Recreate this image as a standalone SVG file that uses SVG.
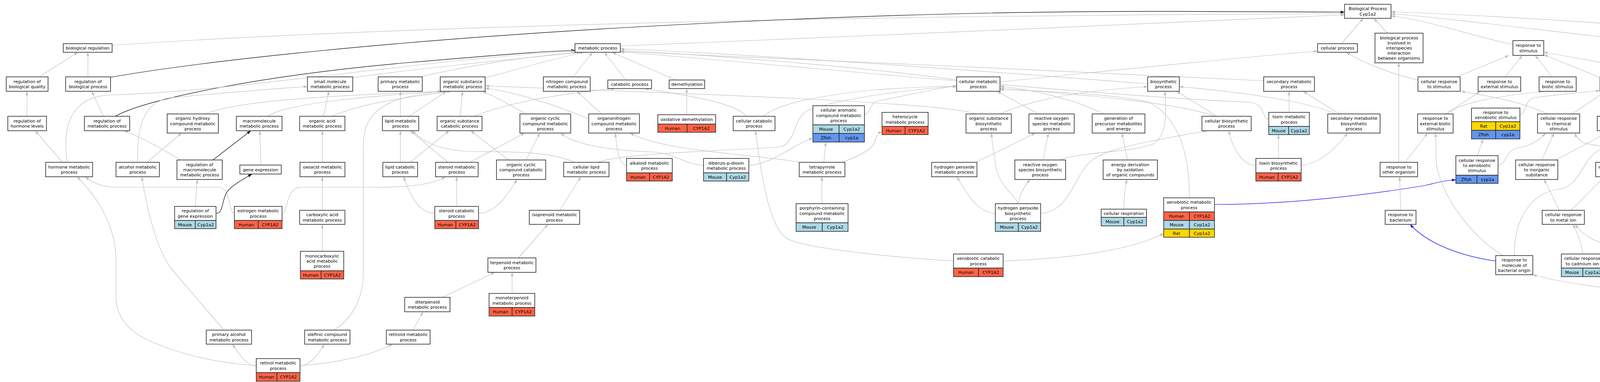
<svg xmlns="http://www.w3.org/2000/svg" width="5401" height="979" viewBox="0 0 5401 979">
<style>
.n rect{fill:#fff;stroke:#2b2b2b;stroke-width:1.6}
.n rect.h{fill:#ff6347}.n rect.m{fill:#add8e6}.n rect.r{fill:#ffd700}.n rect.z{fill:#6495ed}
text{font-family:"DejaVu Sans","Liberation Sans",sans-serif;font-size:11px;text-anchor:middle;fill:#000}
#edges path{fill:none;stroke:#c0c0c0;stroke-width:1.2;marker-end:url(#ag)}
#edges path.k{stroke:#000;marker-end:url(#ak)}
#edges path.u{stroke:#0000ff;marker-end:url(#au)}
#edges path.w{stroke-width:2.4}
</style>
<defs>
<marker id="ag" viewBox="0 0 10 7" refX="10" refY="3.5" markerWidth="10" markerHeight="7" markerUnits="userSpaceOnUse" orient="auto"><path d="M0,0L10,3.5L0,7z" fill="#c0c0c0"/></marker>
<marker id="ak" viewBox="0 0 10 7" refX="10" refY="3.5" markerWidth="10" markerHeight="7" markerUnits="userSpaceOnUse" orient="auto"><path d="M0,0L10,3.5L0,7z" fill="#000"/></marker>
<marker id="au" viewBox="0 0 10 7" refX="10" refY="3.5" markerWidth="10" markerHeight="7" markerUnits="userSpaceOnUse" orient="auto"><path d="M0,0L10,3.5L0,7z" fill="#0000ff"/></marker>
</defs>
<rect x="0" y="0" width="5401" height="979" fill="#fff"/>
<g id="edges">
<path d="M287,116 C900,74 2000,40 3442,35"/>
<path class="k" d="M283,198 C500,160 1000,100 1800,60 S3000,30 3442,31"/>
<path d="M1588,118 C2000,105 3000,55 3442,38"/>
<path d="M3434,112 L3490,47"/>
<path d="M3552,85 L3517,47"/>
<path d="M3873,114 C3760,90 3650,50 3561,41"/>
<path d="M4276,114 C4000,85 3700,45 3561,35"/>
<path d="M5121,197 C5000,130 4300,60 3561,30"/>
<path d="M100,197 L200,134"/>
<path d="M225,197 L225,134"/>
<path d="M69,298 L69,234"/>
<path d="M265,298 L235,234"/>
<path class="k" d="M295,298 C380,250 700,190 1050,160 S1420,131 1472,129"/>
<path d="M160,416 L90,335"/>
<path d="M172,416 C160,330 175,245 290,243 C600,235 1100,150 1472,131"/>
<path d="M376,416 L465,341"/>
<path d="M352,416 C350,320 370,258 440,250 C600,236 720,225 787,222"/>
<path d="M527,292 C600,258 850,245 1130,234"/>
<path d="M685,298 C730,265 950,245 1145,234"/>
<path class="k" d="M545,410 L642,335"/>
<path d="M668,423 L665,335"/>
<path d="M903,199 C1100,172 1350,148 1487,134"/>
<path d="M828,298 L842,234"/>
<path d="M850,298 C920,265 1050,248 1155,234"/>
<path d="M463,410 C420,385 360,350 317,335"/>
<path d="M600,547 C585,547 592,480 560,480 L300,480 C262,480 240,470 218,453"/>
<path d="M722,547 C738,547 730,480 770,480 L960,480 C1060,480 1115,470 1140,453"/>
<path d="M500,529 L505,460"/>
<path class="k" d="M553,547 C575,547 565,505 588,484 C605,468 625,458 645,446"/>
<path d="M825,416 L825,335"/>
<path d="M825,539 L825,453"/>
<path d="M825,644 L825,575"/>
<path d="M573,846 L440,690 C400,640 375,530 363,453"/>
<path d="M855,846 C905,815 930,760 930,700 L930,380 C930,300 960,250 1135,234"/>
<path d="M656,938 C630,936 612,908 595,882"/>
<path d="M768,938 C795,936 815,908 830,882"/>
<path d="M656,937 C550,930 450,905 380,872 C315,842 297,800 297,760 L297,668 C297,580 250,505 197,453"/>
<path d="M768,937 C850,932 950,912 1005,882"/>
<path d="M1057,846 L1083,799"/>
<path d="M1133,762 L1267,698"/>
<path d="M1311,752 L1311,698"/>
<path d="M1327,661 L1403,575"/>
<path d="M1433,539 L1487,453"/>
<path d="M1025,416 L1025,335"/>
<path d="M1050,416 L1150,335"/>
<path d="M1147,416 L1050,335"/>
<path d="M1203,416 L1343,341"/>
<path d="M1169,529 L1169,453"/>
<path d="M1113,547 C1070,545 1050,500 1033,453"/>
<path d="M1225,547 C1270,545 1300,500 1323,460"/>
<path d="M1347,410 L1382,341"/>
<path d="M1302,410 L1205,335"/>
<path d="M1025,298 L1025,234"/>
<path d="M1047,298 L1143,234"/>
<path d="M1178,298 L1184,234"/>
<path d="M1214,298 C1300,262 1450,238 1575,227"/>
<path d="M1345,292 C1300,265 1262,245 1235,234"/>
<path d="M1540,292 L1477,234"/>
<path d="M1507,305 C1420,268 1320,236 1242,226"/>
<path d="M1467,197 L1517,134"/>
<path d="M1602,205 L1547,134"/>
<path d="M1730,205 L1567,134"/>
<path d="M1758,294 L1758,227"/>
<path d="M1075,197 C1200,168 1350,145 1478,134"/>
<path d="M1242,200 C1320,178 1420,150 1495,134"/>
<path d="M1911,298 C1880,262 1760,245 1650,227"/>
<path d="M1953,298 C2000,262 2100,245 2240,230 C2350,223 2420,221 2449,221"/>
<path d="M2441,669 C2300,660 2080,640 2020,614 C1968,590 1950,450 1934,335"/>
<path d="M2568,669 C2750,662 2900,640 2979,598"/>
<path d="M2104,522 L2104,453"/>
<path d="M2109,416 L2114,364"/>
<path d="M2155,416 C2200,400 2235,382 2240,362 C2244,346 2250,340 2258,338"/>
<path d="M2046,416 C1950,396 1700,390 1613,341"/>
<path d="M1917,424 C1980,420 2030,370 2081,354"/>
<path d="M1801,424 C1750,420 1730,395 1680,390 C1550,385 1470,370 1435,341"/>
<path d="M2213,294 C2230,290 2225,262 2250,258 C2320,245 2400,226 2449,220"/>
<path d="M1530,416 C1600,390 1900,386 2000,376 C2040,362 2030,300 2070,282 C2150,252 2350,226 2449,222"/>
<path d="M1472,416 C1400,385 1300,390 1200,388 C1120,385 1080,360 1055,335"/>
<path d="M1604,424 C1585,420 1580,390 1575,341"/>
<path d="M2825,292 C2760,258 2650,230 2560,221"/>
<path d="M2887,410 L2872,341"/>
<path d="M2877,536 C2877,510 2880,480 2885,460"/>
<path d="M2938,215 C2500,180 1900,138 1588,125"/>
<path d="M2449,205 C2200,170 1800,140 1588,129"/>
<path d="M3235,207 C2800,185 2000,150 1588,132"/>
<path d="M3248,306 C3230,305 3240,265 3200,262 C2800,245 2000,165 1588,133"/>
<path d="M3300,288 L3300,234"/>
<path d="M3273,406 L3273,345"/>
<path d="M3215,424 C3180,424 3155,380 3146,335"/>
<path d="M3331,424 C3380,420 3420,380 3450,341"/>
<path d="M3429,292 L3336,234"/>
<path d="M3420,292 C3350,262 3200,238 3019,222"/>
<path d="M3115,298 L3012,234"/>
<path d="M3110,298 C3000,258 2700,238 2560,226"/>
<path d="M2561,292 C2650,250 2800,230 2938,222"/>
<path d="M2498,292 C2400,258 1600,235 1242,220"/>
<path d="M2658,292 L2553,234"/>
<path d="M2498,416 L2651,341"/>
<path d="M2670,410 L2684,341"/>
<path d="M2712,410 C2760,390 2900,390 2950,370 C2990,350 2985,280 2982,234"/>
<path d="M2548,547 C2510,545 2480,510 2450,453"/>
<path d="M2606,522 C2610,500 2620,480 2637,460"/>
<path d="M2606,522 C2600,500 2560,480 2550,430 C2544,390 2540,370 2538,341"/>
<path d="M2664,547 C2720,545 2740,490 2770,440 C2800,390 2850,378 3090,335"/>
<path d="M3045,507 C3045,400 3020,300 2940,262 C2850,240 2650,232 2560,230"/>
<path class="u" d="M3109,524 C3300,524 3500,500 3650,475 C3680,468 3700,462 3727,461"/>
<path d="M2560,210 C2800,185 3150,150 3373,131"/>
<path d="M3630,205 C3560,190 3490,160 3446,134"/>
<path d="M3730,197 L3863,142"/>
<path d="M3853,197 L3897,142"/>
<path d="M3973,197 L3930,142"/>
<path d="M4351,207 C4200,180 4050,150 3952,134"/>
<path d="M4096,199 C4050,180 3990,155 3952,140"/>
<path d="M3960,292 C3900,260 3800,245 3740,234"/>
<path d="M4025,292 L4110,234"/>
<path d="M3700,292 L3790,234"/>
<path d="M3705,292 C3740,260 3850,245 3950,234"/>
<path d="M3891,294 C3910,292 3900,255 3930,250 C4000,240 4060,236 4096,232"/>
<path d="M3782,399 L3797,356"/>
<path d="M3835,424 C3860,420 3850,385 3890,378 C3920,373 3940,360 3957,341"/>
<path d="M3581,416 L3581,161"/>
<path d="M3597,416 L3655,341"/>
<path d="M3586,539 L3583,453"/>
<path class="u" d="M3829,669 C3730,655 3650,620 3610,575"/>
<path d="M3847,655 C3760,600 3690,500 3677,420 L3675,341"/>
<path d="M3877,655 C3875,560 3920,495 3990,485 C4050,478 4050,400 4100,382 C4180,372 4240,370 4261,337"/>
<path d="M3947,410 L3978,341"/>
<path d="M3983,410 L4124,335"/>
<path d="M3992,539 L3953,460"/>
<path d="M4022,539 L4107,453"/>
<path d="M4052,651 C4050,630 4040,600 4027,575"/>
<path d="M4180,669 C4150,660 4140,635 4100,622 C4070,612 4050,600 4033,575"/>
<path d="M4235,651 C4238,620 4245,600 4254,575"/>
<path d="M4105,669 C4130,665 4148,630 4146,575"/>
<path d="M4141,539 L4129,453"/>
<path d="M4251,539 L4151,453"/>
<path d="M4130,416 L4147,335"/>
<path d="M4150,298 L4141,234"/>
<path d="M4261,306 C4245,300 4250,265 4230,255 C4210,245 4190,236 4175,230"/>
<path d="M4671,410 C4620,390 4530,385 4480,390 C4440,390 4430,330 4410,290 C4380,250 4300,228 4175,222"/>
<path d="M4281,416 L4291,345"/>
<path d="M4241,416 C4200,390 4100,375 4060,368 C4045,362 4035,352 4032,341"/>
<path d="M4355,547 C4335,545 4340,500 4293,453"/>
<path d="M4409,522 L4409,470"/>
<path d="M4387,424 C4370,420 4375,390 4340,375 C4320,366 4305,358 4297,345"/>
<path d="M4514,547 C4495,545 4500,500 4470,495 C4440,490 4420,485 4414,470"/>
<path d="M4561,529 L4568,453"/>
<path d="M4608,547 C4640,545 4680,500 4703,460"/>
<path d="M4548,416 C4520,395 4450,385 4380,380 C4330,375 4310,362 4300,345"/>
<path d="M4655,752 C4660,640 4660,540 4600,453"/>
<path d="M4715,770 C4770,765 4790,700 4780,620 C4770,560 4745,510 4727,460"/>
<path d="M4596,770 C4300,760 4050,740 3924,704"/>
<path d="M4473,306 C4455,305 4450,265 4420,234"/>
<path d="M4945,207 C4750,180 4500,150 4371,132"/>
<path d="M5180,298 L5180,234"/>
<path d="M5149,298 L5044,234"/>
<path d="M5333,406 C5333,330 5290,260 5232,234"/>
<path class="u" d="M5281,424 C5265,422 5262,395 5245,385 C5230,372 5220,350 5205,335"/>
<path d="M4888,423 L4997,234"/>
<path class="u" d="M4902,423 L5125,335"/>
<path d="M4891,539 L4883,446"/>
<path d="M5034,416 L5012,234"/>
<path d="M5157,423 C5100,400 5070,370 5055,300 C5047,270 5035,250 5022,234"/>
<path class="u w" d="M5180,423 L5180,335"/>
<path d="M5140,539 L5174,446"/>
<path d="M5117,539 L5052,453"/>
<path d="M5025,658 C5025,580 5028,520 5034,453"/>
<path class="u" d="M5081,669 C5110,665 5130,630 5131,575"/>
<path class="u" d="M4968,669 C4930,665 4910,630 4896,575"/>
</g>
<g id="biological_regulation" class="n"><rect x="162" y="112" width="125" height="22"/><text x="224.5" y="127">biological regulation</text></g>
<g id="reg_bio_quality" class="n"><rect x="16" y="197" width="107" height="37"/><text x="69.5" y="212.9">regulation of</text><text x="69.5" y="226.1">biological quality</text></g>
<g id="reg_bio_process" class="n"><rect x="168" y="197" width="115" height="37"/><text x="225.5" y="212.9">regulation of</text><text x="225.5" y="226.1">biological process</text></g>
<g id="reg_hormone_levels" class="n"><rect x="20" y="298" width="99" height="37"/><text x="69.5" y="313.9">regulation of</text><text x="69.5" y="327.1">hormone levels</text></g>
<g id="reg_metabolic" class="n"><rect x="216" y="298" width="116" height="37"/><text x="274" y="313.9">regulation of</text><text x="274" y="327.1">metabolic process</text></g>
<g id="hormone_metabolic" class="n"><rect x="117" y="416" width="120" height="37"/><text x="177" y="431.9">hormone metabolic</text><text x="177" y="445.1">process</text></g>
<g id="alcohol_metabolic" class="n"><rect x="297" y="416" width="111" height="37"/><text x="352.5" y="431.9">alcohol metabolic</text><text x="352.5" y="445.1">process</text></g>
<g id="organic_hydroxy" class="n"><rect x="428" y="292" width="131" height="49"/><text x="493.5" y="307.3">organic hydroxy</text><text x="493.5" y="320.5">compound metabolic</text><text x="493.5" y="333.7">process</text></g>
<g id="macromolecule_metabolic" class="n"><rect x="605" y="298" width="117" height="37"/><text x="663.5" y="313.9">macromolecule</text><text x="663.5" y="327.1">metabolic process</text></g>
<g id="small_molecule" class="n"><rect x="787" y="197" width="116" height="37"/><text x="845" y="212.9">small molecule</text><text x="845" y="226.1">metabolic process</text></g>
<g id="organic_acid" class="n"><rect x="767" y="298" width="116" height="37"/><text x="825" y="313.9">organic acid</text><text x="825" y="327.1">metabolic process</text></g>
<g id="reg_macromolecule" class="n"><rect x="453" y="410" width="116" height="50"/><text x="511" y="425.8">regulation of</text><text x="511" y="439">macromolecule</text><text x="511" y="452.2">metabolic process</text></g>
<g id="gene_expression" class="n"><rect x="614" y="423" width="106" height="23"/><text x="667" y="438.5">gene expression</text></g>
<g id="oxoacid" class="n"><rect x="768" y="416" width="115" height="37"/><text x="825.5" y="431.9">oxoacid metabolic</text><text x="825.5" y="445.1">process</text></g>
<g id="reg_gene_expression" class="n"><rect x="447" y="529" width="106" height="36"/><text x="500" y="544.4">regulation of</text><text x="500" y="557.6">gene expression</text><rect class="m" x="447" y="565" width="53" height="21"/><rect class="m" x="500" y="565" width="53" height="21"/><text x="473.5" y="579.5">Mouse</text><text x="526.5" y="579.5">Cyp1a2</text></g>
<g id="estrogen" class="n"><rect x="600" y="529" width="122" height="36"/><text x="661" y="544.4">estrogen metabolic</text><text x="661" y="557.6">process</text><rect class="h" x="600" y="565" width="61" height="21"/><rect class="h" x="661" y="565" width="61" height="21"/><text x="630.5" y="579.5">Human</text><text x="691.5" y="579.5">CYP1A2</text></g>
<g id="carboxylic" class="n"><rect x="767" y="539" width="116" height="36"/><text x="825" y="554.4">carboxylic acid</text><text x="825" y="567.6">metabolic process</text></g>
<g id="monocarboxylic" class="n"><rect x="769" y="644" width="111" height="50"/><text x="824.5" y="659.8">monocarboxylic</text><text x="824.5" y="673">acid metabolic</text><text x="824.5" y="686.2">process</text><rect class="h" x="769" y="694" width="53" height="21"/><rect class="h" x="822" y="694" width="58" height="21"/><text x="795.5" y="708.5">Human</text><text x="851" y="708.5">CYP1A2</text></g>
<g id="primary_alcohol" class="n"><rect x="528" y="846" width="116" height="36"/><text x="586" y="861.4">primary alcohol</text><text x="586" y="874.6">metabolic process</text></g>
<g id="olefinic" class="n"><rect x="780" y="846" width="116" height="36"/><text x="838" y="861.4">olefinic compound</text><text x="838" y="874.6">metabolic process</text></g>
<g id="retinol" class="n"><rect x="656" y="919" width="112" height="36"/><text x="712" y="934.4">retinol metabolic</text><text x="712" y="947.6">process</text><rect class="h" x="656" y="955" width="53" height="22"/><rect class="h" x="709" y="955" width="59" height="22"/><text x="682.5" y="970">Human</text><text x="738.5" y="970">CYP1A2</text></g>
<g id="primary_metabolic" class="n"><rect x="968" y="197" width="113" height="37"/><text x="1024.5" y="212.9">primary metabolic</text><text x="1024.5" y="226.1">process</text></g>
<g id="organic_substance_metabolic" class="n"><rect x="1127" y="197" width="115" height="37"/><text x="1184.5" y="212.9">organic substance</text><text x="1184.5" y="226.1">metabolic process</text></g>
<g id="lipid_metabolic" class="n"><rect x="979" y="298" width="93" height="37"/><text x="1025.5" y="313.9">lipid metabolic</text><text x="1025.5" y="327.1">process</text></g>
<g id="organic_substance_catabolic" class="n"><rect x="1119" y="298" width="115" height="37"/><text x="1176.5" y="313.9">organic substance</text><text x="1176.5" y="327.1">catabolic process</text></g>
<g id="organic_cyclic_metabolic" class="n"><rect x="1331" y="292" width="130" height="49"/><text x="1396" y="307.3">organic cyclic</text><text x="1396" y="320.5">compound metabolic</text><text x="1396" y="333.7">process</text></g>
<g id="lipid_catabolic" class="n"><rect x="980" y="416" width="89" height="37"/><text x="1024.5" y="431.9">lipid catabolic</text><text x="1024.5" y="445.1">process</text></g>
<g id="steroid_metabolic" class="n"><rect x="1115" y="416" width="109" height="37"/><text x="1169.5" y="431.9">steroid metabolic</text><text x="1169.5" y="445.1">process</text></g>
<g id="organic_cyclic_catabolic" class="n"><rect x="1271" y="410" width="126" height="50"/><text x="1334" y="425.8">organic cyclic</text><text x="1334" y="439">compound catabolic</text><text x="1334" y="452.2">process</text></g>
<g id="steroid_catabolic" class="n"><rect x="1113" y="529" width="112" height="36"/><text x="1169" y="544.4">steroid catabolic</text><text x="1169" y="557.6">process</text><rect class="h" x="1113" y="565" width="54" height="21"/><rect class="h" x="1167" y="565" width="58" height="21"/><text x="1140" y="579.5">Human</text><text x="1196" y="579.5">CYP1A2</text></g>
<g id="terpenoid" class="n"><rect x="1249" y="661" width="123" height="37"/><text x="1310.5" y="676.9">terpenoid metabolic</text><text x="1310.5" y="690.1">process</text></g>
<g id="monoterpenoid" class="n"><rect x="1252" y="752" width="117" height="36"/><text x="1310.5" y="767.4">monoterpenoid</text><text x="1310.5" y="780.6">metabolic process</text><rect class="h" x="1252" y="788" width="59" height="22"/><rect class="h" x="1311" y="788" width="58" height="22"/><text x="1281.5" y="803">Human</text><text x="1340" y="803">CYP1A2</text></g>
<g id="diterpenoid" class="n"><rect x="1036" y="762" width="116" height="37"/><text x="1094" y="777.9">diterpenoid</text><text x="1094" y="791.1">metabolic process</text></g>
<g id="retinoid" class="n"><rect x="989" y="846" width="112" height="36"/><text x="1045" y="861.4">retinoid metabolic</text><text x="1045" y="874.6">process</text></g>
<g id="metabolic_process" class="n"><rect x="1472" y="112" width="116" height="22"/><text x="1530" y="127">metabolic process</text></g>
<g id="nitrogen_compound" class="n"><rect x="1391" y="197" width="120" height="37"/><text x="1451" y="212.9">nitrogen compound</text><text x="1451" y="226.1">metabolic process</text></g>
<g id="catabolic" class="n"><rect x="1556" y="205" width="112" height="22"/><text x="1612" y="220">catabolic process</text></g>
<g id="demethylation" class="n"><rect x="1713" y="205" width="91" height="22"/><text x="1758.5" y="220">demethylation</text></g>
<g id="organonitrogen" class="n"><rect x="1507" y="292" width="130" height="49"/><text x="1572" y="307.3">organonitrogen</text><text x="1572" y="320.5">compound metabolic</text><text x="1572" y="333.7">process</text></g>
<g id="oxidative_demethylation" class="n"><rect x="1684" y="294" width="148" height="24"/><text x="1758" y="310">oxidative demethylation</text><rect class="h" x="1684" y="318" width="75" height="21"/><rect class="h" x="1759" y="318" width="73" height="21"/><text x="1721.5" y="332.5">Human</text><text x="1795.5" y="332.5">CYP1A2</text></g>
<g id="cellular_lipid" class="n"><rect x="1443" y="416" width="116" height="37"/><text x="1501" y="431.9">cellular lipid</text><text x="1501" y="445.1">metabolic process</text></g>
<g id="alkaloid" class="n"><rect x="1604" y="406" width="117" height="37"/><text x="1662.5" y="421.9">alkaloid metabolic</text><text x="1662.5" y="435.1">process</text><rect class="h" x="1604" y="443" width="59" height="21"/><rect class="h" x="1663" y="443" width="58" height="21"/><text x="1633.5" y="457.5">Human</text><text x="1692" y="457.5">CYP1A2</text></g>
<g id="isoprenoid" class="n"><rect x="1355" y="539" width="129" height="36"/><text x="1419.5" y="554.4">isoprenoid metabolic</text><text x="1419.5" y="567.6">process</text></g>
<g id="cellular_catabolic" class="n"><rect x="1877" y="298" width="107" height="37"/><text x="1930.5" y="313.9">cellular catabolic</text><text x="1930.5" y="327.1">process</text></g>
<g id="cellular_aromatic" class="n"><rect x="2081" y="271" width="132" height="49"/><text x="2147" y="286.3">cellular aromatic</text><text x="2147" y="299.5">compound metabolic</text><text x="2147" y="312.7">process</text><rect class="m" x="2081" y="320" width="67" height="22"/><rect class="m" x="2148" y="320" width="65" height="22"/><text x="2114.5" y="335">Mouse</text><text x="2180.5" y="335">Cyp1a2</text><rect class="z" x="2081" y="342" width="67" height="22"/><rect class="z" x="2148" y="342" width="65" height="22"/><text x="2114.5" y="357">Zfish</text><text x="2180.5" y="357">cyp1a</text></g>
<g id="dibenzo_p_dioxin" class="n"><rect x="1801" y="406" width="116" height="37"/><text x="1859" y="421.9">dibenzo-p-dioxin</text><text x="1859" y="435.1">metabolic process</text><rect class="m" x="1801" y="443" width="59" height="21"/><rect class="m" x="1860" y="443" width="57" height="21"/><text x="1830.5" y="457.5">Mouse</text><text x="1888.5" y="457.5">Cyp1a2</text></g>
<g id="tetrapyrrole" class="n"><rect x="2046" y="416" width="117" height="37"/><text x="2104.5" y="431.9">tetrapyrrole</text><text x="2104.5" y="445.1">metabolic process</text></g>
<g id="porphyrin" class="n"><rect x="2038" y="522" width="133" height="49"/><text x="2104.5" y="537.3">porphyrin-containing</text><text x="2104.5" y="550.5">compound metabolic</text><text x="2104.5" y="563.7">process</text><rect class="m" x="2038" y="571" width="67" height="22"/><rect class="m" x="2105" y="571" width="66" height="22"/><text x="2071.5" y="586">Mouse</text><text x="2138" y="586">Cyp1a2</text></g>
<g id="cellular_metabolic" class="n"><rect x="2449" y="197" width="111" height="37"/><text x="2504.5" y="212.9">cellular metabolic</text><text x="2504.5" y="226.1">process</text></g>
<g id="heterocycle" class="n"><rect x="2258" y="288" width="118" height="36"/><text x="2317" y="303.4">heterocycle</text><text x="2317" y="316.6">metabolic process</text><rect class="h" x="2258" y="324" width="59" height="21"/><rect class="h" x="2317" y="324" width="59" height="21"/><text x="2287.5" y="338.5">Human</text><text x="2346.5" y="338.5">CYP1A2</text></g>
<g id="organic_substance_biosynthetic" class="n"><rect x="2473" y="292" width="116" height="49"/><text x="2531" y="307.3">organic substance</text><text x="2531" y="320.5">biosynthetic</text><text x="2531" y="333.7">process</text></g>
<g id="ros_metabolic" class="n"><rect x="2634" y="292" width="116" height="49"/><text x="2692" y="307.3">reactive oxygen</text><text x="2692" y="320.5">species metabolic</text><text x="2692" y="333.7">process</text></g>
<g id="h2o2_metabolic" class="n"><rect x="2385" y="416" width="116" height="37"/><text x="2443" y="431.9">hydrogen peroxide</text><text x="2443" y="445.1">metabolic process</text></g>
<g id="ros_biosynthetic" class="n"><rect x="2598" y="410" width="130" height="50"/><text x="2663" y="425.8">reactive oxygen</text><text x="2663" y="439">species biosynthetic</text><text x="2663" y="452.2">process</text></g>
<g id="h2o2_biosynthetic" class="n"><rect x="2548" y="522" width="116" height="49"/><text x="2606" y="537.3">hydrogen peroxide</text><text x="2606" y="550.5">biosynthetic</text><text x="2606" y="563.7">process</text><rect class="m" x="2548" y="571" width="59" height="22"/><rect class="m" x="2607" y="571" width="57" height="22"/><text x="2577.5" y="586">Mouse</text><text x="2635.5" y="586">Cyp1a2</text></g>
<g id="xenobiotic_catabolic" class="n"><rect x="2441" y="651" width="127" height="36"/><text x="2504.5" y="666.4">xenobiotic catabolic</text><text x="2504.5" y="679.6">process</text><rect class="h" x="2441" y="687" width="64" height="22"/><rect class="h" x="2505" y="687" width="63" height="22"/><text x="2473" y="702">Human</text><text x="2536.5" y="702">CYP1A2</text></g>
<g id="biosynthetic" class="n"><rect x="2938" y="197" width="81" height="37"/><text x="2978.5" y="212.9">biosynthetic</text><text x="2978.5" y="226.1">process</text></g>
<g id="generation_precursor" class="n"><rect x="2796" y="292" width="135" height="49"/><text x="2863.5" y="307.3">generation of</text><text x="2863.5" y="320.5">precursor metabolites</text><text x="2863.5" y="333.7">and energy</text></g>
<g id="cellular_biosynthetic" class="n"><rect x="3077" y="298" width="126" height="37"/><text x="3140" y="313.9">cellular biosynthetic</text><text x="3140" y="327.1">process</text></g>
<g id="energy_derivation" class="n"><rect x="2824" y="410" width="139" height="50"/><text x="2893.5" y="425.8">energy derivation</text><text x="2893.5" y="439">by oxidation</text><text x="2893.5" y="452.2">of organic compounds</text></g>
<g id="cellular_respiration" class="n"><rect x="2819" y="536" width="116" height="21"/><text x="2877" y="550.5">cellular respiration</text><rect class="m" x="2819" y="557" width="58" height="22"/><rect class="m" x="2877" y="557" width="58" height="22"/><text x="2848" y="572">Mouse</text><text x="2906" y="572">Cyp1a2</text></g>
<g id="xenobiotic_metabolic" class="n"><rect x="2979" y="507" width="130" height="36"/><text x="3044" y="522.4">xenobiotic metabolic</text><text x="3044" y="535.6">process</text><rect class="h" x="2979" y="543" width="66" height="22"/><rect class="h" x="3045" y="543" width="64" height="22"/><text x="3012" y="558">Human</text><text x="3077" y="558">CYP1A2</text><rect class="m" x="2979" y="565" width="66" height="22"/><rect class="m" x="3045" y="565" width="64" height="22"/><text x="3012" y="580">Mouse</text><text x="3077" y="580">Cyp1a2</text><rect class="r" x="2979" y="587" width="66" height="21"/><rect class="r" x="3045" y="587" width="64" height="21"/><text x="3012" y="601.5">Rat</text><text x="3077" y="601.5">Cyp1a2</text></g>
<g id="biological_process_root" class="n"><rect x="3442" y="11" width="119" height="36"/><text x="3501.5" y="26.4">Biological Process</text><text x="3501.5" y="39.6">Cyp1a2</text></g>
<g id="cellular_process" class="n"><rect x="3373" y="112" width="102" height="22"/><text x="3424" y="127">cellular process</text></g>
<g id="interspecies" class="n"><rect x="3520" y="85" width="123" height="76"/><text x="3581.5" y="100.6">biological process</text><text x="3581.5" y="113.8">involved in</text><text x="3581.5" y="127">interspecies</text><text x="3581.5" y="140.2">interaction</text><text x="3581.5" y="153.4">between organisms</text></g>
<g id="secondary_metabolic" class="n"><rect x="3235" y="197" width="130" height="37"/><text x="3300" y="212.9">secondary metabolic</text><text x="3300" y="226.1">process</text></g>
<g id="toxin_metabolic" class="n"><rect x="3248" y="288" width="104" height="36"/><text x="3300" y="303.4">toxin metabolic</text><text x="3300" y="316.6">process</text><rect class="m" x="3248" y="324" width="51" height="21"/><rect class="m" x="3299" y="324" width="53" height="21"/><text x="3273.5" y="338.5">Mouse</text><text x="3325.5" y="338.5">Cyp1a2</text></g>
<g id="secondary_biosynthetic" class="n"><rect x="3399" y="292" width="134" height="49"/><text x="3466" y="307.3">secondary metabolite</text><text x="3466" y="320.5">biosynthetic</text><text x="3466" y="333.7">process</text></g>
<g id="toxin_biosynthetic" class="n"><rect x="3215" y="406" width="116" height="37"/><text x="3273" y="421.9">toxin biosynthetic</text><text x="3273" y="435.1">process</text><rect class="h" x="3215" y="443" width="57" height="21"/><rect class="h" x="3272" y="443" width="59" height="21"/><text x="3243.5" y="457.5">Human</text><text x="3301.5" y="457.5">CYP1A2</text></g>
<g id="response_other_organism" class="n"><rect x="3533" y="416" width="96" height="37"/><text x="3581" y="431.9">response to</text><text x="3581" y="445.1">other organism</text></g>
<g id="response_bacterium" class="n"><rect x="3546" y="539" width="79" height="36"/><text x="3585.5" y="554.4">response to</text><text x="3585.5" y="567.6">bacterium</text></g>
<g id="response_stimulus" class="n"><rect x="3873" y="104" width="79" height="38"/><text x="3912.5" y="120.4">response to</text><text x="3912.5" y="133.6">stimulus</text></g>
<g id="cellular_response_stimulus" class="n"><rect x="3630" y="197" width="108" height="37"/><text x="3684" y="212.9">cellular response</text><text x="3684" y="226.1">to stimulus</text></g>
<g id="response_external" class="n"><rect x="3784" y="197" width="109" height="37"/><text x="3838.5" y="212.9">response to</text><text x="3838.5" y="226.1">external stimulus</text></g>
<g id="response_biotic" class="n"><rect x="3940" y="197" width="95" height="37"/><text x="3987.5" y="212.9">response to</text><text x="3987.5" y="226.1">biotic stimulus</text></g>
<g id="response_external_biotic" class="n"><rect x="3629" y="292" width="91" height="49"/><text x="3674.5" y="307.3">response to</text><text x="3674.5" y="320.5">external biotic</text><text x="3674.5" y="333.7">stimulus</text></g>
<g id="response_xenobiotic" class="n"><rect x="3767" y="277" width="124" height="35"/><text x="3829" y="291.9">response to</text><text x="3829" y="305.1">xenobiotic stimulus</text><rect class="r" x="3767" y="312" width="62" height="22"/><rect class="r" x="3829" y="312" width="62" height="22"/><text x="3798" y="327">Rat</text><text x="3860" y="327">Cyp1a2</text><rect class="z" x="3767" y="334" width="62" height="22"/><rect class="z" x="3829" y="334" width="62" height="22"/><text x="3798" y="349">Zfish</text><text x="3860" y="349">cyp1a</text></g>
<g id="cellular_response_chemical" class="n"><rect x="3936" y="292" width="108" height="49"/><text x="3990" y="307.3">cellular response</text><text x="3990" y="320.5">to chemical</text><text x="3990" y="333.7">stimulus</text></g>
<g id="cellular_response_xenobiotic" class="n"><rect x="3727" y="399" width="108" height="50"/><text x="3781" y="414.8">cellular response</text><text x="3781" y="428">to xenobiotic</text><text x="3781" y="441.2">stimulus</text><rect class="z" x="3727" y="449" width="54" height="21"/><rect class="z" x="3781" y="449" width="54" height="21"/><text x="3754" y="463.5">Zfish</text><text x="3808" y="463.5">cyp1a</text></g>
<g id="cellular_response_inorganic" class="n"><rect x="3880" y="410" width="108" height="50"/><text x="3934" y="425.8">cellular response</text><text x="3934" y="439">to inorganic</text><text x="3934" y="452.2">substance</text></g>
<g id="cellular_response_metal" class="n"><rect x="3948" y="539" width="108" height="36"/><text x="4002" y="554.4">cellular response</text><text x="4002" y="567.6">to metal ion</text></g>
<g id="response_bacterial_molecule" class="n"><rect x="3829" y="655" width="95" height="49"/><text x="3876.5" y="670.3">response to</text><text x="3876.5" y="683.5">molecule of</text><text x="3876.5" y="696.7">bacterial origin</text></g>
<g id="cellular_response_cadmium" class="n"><rect x="3997" y="651" width="108" height="36"/><text x="4051" y="666.4">cellular response</text><text x="4051" y="679.6">to cadmium ion</text><rect class="m" x="3997" y="687" width="55" height="22"/><rect class="m" x="4052" y="687" width="53" height="22"/><text x="4024.5" y="702">Mouse</text><text x="4078.5" y="702">Cyp1a2</text></g>
<g id="developmental" class="n"><rect x="4276" y="104" width="95" height="38"/><text x="4323.5" y="120.4">developmental</text><text x="4323.5" y="133.6">process</text></g>
<g id="response_chemical" class="n"><rect x="4096" y="197" width="79" height="37"/><text x="4135.5" y="212.9">response to</text><text x="4135.5" y="226.1">chemical</text></g>
<g id="response_stress" class="n"><rect x="4351" y="197" width="80" height="37"/><text x="4391" y="212.9">response to</text><text x="4391" y="226.1">stress</text></g>
<g id="response_inorganic" class="n"><rect x="4089" y="298" width="127" height="37"/><text x="4152.5" y="313.9">response to</text><text x="4152.5" y="327.1">inorganic substance</text></g>
<g id="response_organic_substance" class="n"><rect x="4261" y="288" width="116" height="36"/><text x="4319" y="303.4">response to</text><text x="4319" y="316.6">organic substance</text><rect class="r" x="4261" y="324" width="59" height="21"/><rect class="r" x="4320" y="324" width="57" height="21"/><text x="4290.5" y="338.5">Rat</text><text x="4348.5" y="338.5">Cyp1a2</text></g>
<g id="response_immobilization" class="n"><rect x="4473" y="281" width="102" height="50"/><text x="4524" y="296.8">response to</text><text x="4524" y="310">immobilization</text><text x="4524" y="323.2">stress</text><rect class="r" x="4473" y="331" width="48" height="21"/><rect class="r" x="4521" y="331" width="54" height="21"/><text x="4497" y="345.5">Rat</text><text x="4548" y="345.5">Cyp1a2</text></g>
<g id="response_metal" class="n"><rect x="4085" y="416" width="79" height="37"/><text x="4124.5" y="431.9">response to</text><text x="4124.5" y="445.1">metal ion</text></g>
<g id="cellular_response_organic_substance" class="n"><rect x="4209" y="416" width="131" height="37"/><text x="4274.5" y="431.9">cellular response</text><text x="4274.5" y="445.1">to organic substance</text></g>
<g id="response_organic_cyclic" class="n"><rect x="4387" y="399" width="100" height="50"/><text x="4437" y="414.8">response to</text><text x="4437" y="428">organic cyclic</text><text x="4437" y="441.2">compound</text><rect class="r" x="4387" y="449" width="46" height="21"/><rect class="r" x="4433" y="449" width="54" height="21"/><text x="4410" y="463.5">Rat</text><text x="4460" y="463.5">Cyp1a2</text></g>
<g id="response_cadmium" class="n"><rect x="4101" y="539" width="84" height="36"/><text x="4143" y="554.4">response to</text><text x="4143" y="567.6">cadmium ion</text></g>
<g id="response_copper" class="n"><rect x="4231" y="539" width="78" height="36"/><text x="4270" y="554.4">response to</text><text x="4270" y="567.6">copper ion</text></g>
<g id="cellular_response_organic_cyclic" class="n"><rect x="4355" y="522" width="108" height="49"/><text x="4409" y="537.3">cellular response</text><text x="4409" y="550.5">to organic cyclic</text><text x="4409" y="563.7">compound</text><rect class="z" x="4355" y="571" width="54" height="22"/><rect class="z" x="4409" y="571" width="54" height="22"/><text x="4382" y="586">Zfish</text><text x="4436" y="586">cyp1a</text></g>
<g id="cellular_response_copper" class="n"><rect x="4180" y="651" width="108" height="36"/><text x="4234" y="666.4">cellular response</text><text x="4234" y="679.6">to copper ion</text><rect class="r" x="4180" y="687" width="55" height="22"/><rect class="r" x="4235" y="687" width="53" height="22"/><text x="4207.5" y="702">Rat</text><text x="4261.5" y="702">Cyp1a2</text></g>
<g id="response_lipid" class="n"><rect x="4532" y="416" width="79" height="37"/><text x="4571.5" y="431.9">response to</text><text x="4571.5" y="445.1">lipid</text></g>
<g id="response_oxygen" class="n"><rect x="4656" y="410" width="115" height="50"/><text x="4713.5" y="425.8">response to</text><text x="4713.5" y="439">oxygen-containing</text><text x="4713.5" y="452.2">compound</text></g>
<g id="response_estradiol" class="n"><rect x="4514" y="529" width="94" height="36"/><text x="4561" y="544.4">response to</text><text x="4561" y="557.6">estradiol</text><rect class="r" x="4514" y="565" width="41" height="21"/><rect class="r" x="4555" y="565" width="53" height="21"/><text x="4534.5" y="579.5">Rat</text><text x="4581.5" y="579.5">Cyp1a2</text></g>
<g id="response_lps" class="n"><rect x="4596" y="752" width="119" height="36"/><text x="4655.5" y="767.4">response to</text><text x="4655.5" y="780.6">lipopolysaccharide</text><rect class="r" x="4596" y="788" width="59" height="22"/><rect class="r" x="4655" y="788" width="60" height="22"/><text x="4625.5" y="803">Rat</text><text x="4685" y="803">Cyp1a2</text></g>
<g id="system_development" class="n"><rect x="4816" y="423" width="131" height="23"/><text x="4881.5" y="438.5">system development</text></g>
<g id="respiratory_system" class="n"><rect x="4826" y="539" width="131" height="36"/><text x="4891.5" y="554.4">respiratory</text><text x="4891.5" y="567.6">system development</text></g>
<g id="anatomical_structure" class="n"><rect x="4945" y="197" width="128" height="37"/><text x="5009" y="212.9">anatomical structure</text><text x="5009" y="226.1">development</text></g>
<g id="multicellular_organismal" class="n"><rect x="5118" y="197" width="123" height="37"/><text x="5179.5" y="212.9">multicellular</text><text x="5179.5" y="226.1">organismal process</text></g>
<g id="multicellular_organism_dev" class="n"><rect x="5109" y="298" width="142" height="37"/><text x="5180" y="313.9">multicellular</text><text x="5180" y="327.1">organism development</text></g>
<g id="animal_organ" class="n"><rect x="4993" y="416" width="84" height="37"/><text x="5035" y="431.9">animal organ</text><text x="5035" y="445.1">development</text></g>
<g id="tube_development" class="n"><rect x="5122" y="423" width="114" height="23"/><text x="5179" y="438.5">tube development</text></g>
<g id="post_embryonic" class="n"><rect x="5281" y="406" width="104" height="37"/><text x="5333" y="421.9">post-embryonic</text><text x="5333" y="435.1">development</text><rect class="m" x="5281" y="443" width="51" height="21"/><rect class="m" x="5332" y="443" width="53" height="21"/><text x="5306.5" y="457.5">Mouse</text><text x="5358.5" y="457.5">Cyp1a2</text></g>
<g id="respiratory_tube" class="n"><rect x="5075" y="539" width="113" height="36"/><text x="5131.5" y="554.4">respiratory</text><text x="5131.5" y="567.6">tube development</text></g>
<g id="lung_development" class="n"><rect x="4968" y="658" width="113" height="22"/><text x="5024.5" y="673">lung development</text><rect class="m" x="4968" y="680" width="57" height="21"/><rect class="m" x="5025" y="680" width="56" height="21"/><text x="4996.5" y="694.5">Mouse</text><text x="5053" y="694.5">Cyp1a2</text></g>
</svg>
